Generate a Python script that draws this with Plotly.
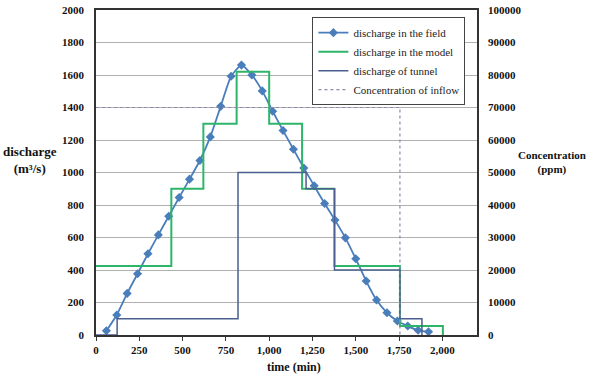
import plotly.graph_objects as go

# Field discharge (m3/s) every 60 min
field_time = [60 * k for k in range(1, 33)]
field_q = [26, 123, 256, 377, 500, 616, 731, 846, 959, 1074, 1219, 1407, 1592, 1661,
           1600, 1502, 1377, 1258, 1143, 1028, 918, 809, 707, 598, 469, 332, 215, 137,
           86, 55, 29, 20]

# Model discharge (step)
model_time = [0, 435, 620, 812, 1000, 1190, 1377, 1755, 2003]
model_q = [425, 900, 1300, 1620, 1300, 900, 425, 55, 0]

# Tunnel discharge (step)
tunnel_time = [0, 122, 820, 1213, 1377, 1755, 1882]
tunnel_q = [0, 100, 1000, 900, 400, 100, 0]

# Concentration of inflow (ppm, secondary axis)
conc_time = [0, 1755]
conc_ppm = [70000, 0]

x_ticks = [0, 250, 500, 750, 1000, 1250, 1500, 1750, 2000]
x_labels = ["0", "250", "500", "750", "1,000", "1,250", "1,500", "1,750", "2,000"]

FONT = "Liberation Serif, Times New Roman, serif"

fig = go.Figure()
fig.add_trace(go.Scatter(
    x=field_time, y=field_q, name="discharge in the field", mode="lines+markers",
    line=dict(color="#4A7EBB", width=1.8, shape="spline", smoothing=0.5),
    marker=dict(symbol="diamond", size=7, color="#4A7EBB")))
fig.add_trace(go.Scatter(
    x=model_time, y=model_q, name="discharge in the model", mode="lines",
    line=dict(color="#2DB56A", width=2, shape="hv")))
fig.add_trace(go.Scatter(
    x=tunnel_time, y=tunnel_q, name="discharge of tunnel", mode="lines",
    line=dict(color="#4A5F8F", width=1.5, shape="hv")))
fig.add_trace(go.Scatter(
    x=conc_time, y=conc_ppm, name="Concentration of inflow", mode="lines",
    line=dict(color="#8A8AAA", width=1.2, dash="3px,3px", shape="hv"), yaxis="y2"))

tick_font = dict(family=FONT, size=11, color="#111111", weight="bold")

fig.update_layout(
    width=591, height=375, autosize=False,
    margin=dict(l=96, r=114, t=10, b=40, pad=0),
    paper_bgcolor="white", plot_bgcolor="white",
    font=dict(family=FONT, size=11, color="#111111"),
    showlegend=True,
    legend=dict(x=0.568, y=0.978, xanchor="left", yanchor="top",
                bgcolor="white", bordercolor="#444444", borderwidth=1,
                font=dict(family=FONT, size=11, color="#222222"),
                tracegroupgap=0),
    xaxis=dict(range=[0, 2200], tickvals=x_ticks, ticktext=x_labels,
               showgrid=False, zeroline=False, automargin=False,
               showline=True, linecolor="#333333", linewidth=1.5, mirror=True,
               ticks="outside", ticklen=4, tickcolor="#333333",
               tickfont=tick_font),
    yaxis=dict(range=[0, 2000], dtick=200, showgrid=True, gridcolor="#B0B0B0",
               gridwidth=1, zeroline=False, automargin=False,
               showline=True, linecolor="#333333", linewidth=1.5, mirror=True,
               ticks="", ticklabelstandoff=8, tickfont=tick_font),
    yaxis2=dict(range=[0, 100000], dtick=10000, overlaying="y", side="right",
                showgrid=False, zeroline=False, showline=False, ticks="",
                automargin=False, exponentformat="none", separatethousands=False,
                tickformat="d", ticklabelstandoff=10, tickfont=tick_font),
    annotations=[
        dict(text="<b>discharge</b><br><b>(m³/s)</b>", xref="paper", yref="paper",
             x=-0.174, y=0.539, xanchor="center", yanchor="middle", showarrow=False,
             font=dict(family=FONT, size=13, color="#111111")),
        dict(text="<b>Concentration</b><br><b>(ppm)</b>", xref="paper", yref="paper",
             x=1.196, y=0.531, xanchor="center", yanchor="middle", showarrow=False,
             font=dict(family=FONT, size=11, color="#111111")),
        dict(text="<b>time (min)</b>", xref="paper", yref="paper",
             x=0.52, y=-0.098, xanchor="center", yanchor="middle", showarrow=False,
             font=dict(family=FONT, size=12, color="#111111")),
    ],
)

fig.write_html("out.html")
